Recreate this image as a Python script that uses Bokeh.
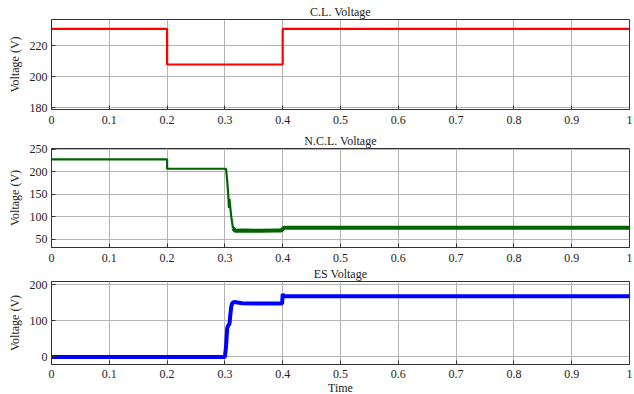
from bokeh.plotting import figure
from bokeh.layouts import column
from bokeh.models import FixedTicker, Range1d, Spacer
from bokeh.embed import file_html
from bokeh.resources import INLINE

# ---- data ----
x_ticks = [0, 0.1, 0.2, 0.3, 0.4, 0.5, 0.6, 0.7, 0.8, 0.9, 1.0]
x_labels = ["0", "0.1", "0.2", "0.3", "0.4", "0.5", "0.6", "0.7", "0.8", "0.9", "1"]

cl_t = [0, 0.2, 0.2, 0.4, 0.4, 1.0]
cl_v = [231, 231, 208, 208, 231, 231]
cl_ticks = [180, 200, 220]

ncl_t_step = [0, 0.2, 0.2, 0.302, 0.304, 0.306, 0.307, 0.308, 0.309, 0.311, 0.314]
ncl_v_step = [228, 228, 207, 207, 180, 145, 120, 140, 125, 100, 75]
ncl_t_band = [0.314, 0.318, 0.33, 0.36, 0.39, 0.398, 0.402, 0.45, 0.6, 0.8, 1.0]
ncl_v_band = [75, 69, 70, 69, 70, 70, 76, 76, 76, 76, 76]
ncl_ticks = [50, 100, 150, 200, 250]

es_t = [0, 0.3, 0.302, 0.304, 0.306, 0.308, 0.309, 0.311, 0.313, 0.316, 0.33, 0.36,
        0.399, 0.4, 0.401, 0.41, 0.5, 0.7, 1.0]
es_v = [0, 0, 30, 80, 88, 92, 110, 140, 150, 152, 149, 148, 148, 175, 168, 168, 168, 168, 168]
es_ticks = [0, 100, 200]

FONT = "Liberation Serif"


def make_fig(title, yr, yticks, frame_h, xlabel=None, xstand=6):
    p = figure(frame_width=578, frame_height=frame_h,
               x_range=Range1d(0, 1), y_range=Range1d(*yr),
               output_backend="svg", toolbar_location=None,
               min_border_left=51, min_border_right=5,
               min_border_top=0, min_border_bottom=0)
    p.title.text = title
    p.title.align = "center"
    p.title.text_font = FONT
    p.title.text_font_size = "12px"
    p.title.text_font_style = "normal"
    p.title.text_color = "#222222"
    p.title.standoff = 1
    p.title.offset = 0
    p.outline_line_color = "#333333"
    p.outline_line_width = 1
    for ax in (p.xaxis[0], p.yaxis[0]):
        ax.major_label_text_font = FONT
        ax.major_label_text_font_size = "12px"
        ax.major_label_text_color = "#222222"
        ax.axis_line_color = "#333333"
        ax.major_tick_in = 4
        ax.major_tick_out = 0
        ax.major_tick_line_color = "#333333"
        ax.minor_tick_line_color = None
        ax.axis_label_text_font = FONT
        ax.axis_label_text_font_size = "12px"
        ax.axis_label_text_font_style = "normal"
        ax.axis_label_text_color = "#222222"
    p.xaxis[0].ticker = FixedTicker(ticks=x_ticks)
    p.xaxis[0].major_label_overrides = {t: l for t, l in zip(x_ticks, x_labels)}
    p.xaxis[0].major_label_standoff = xstand
    p.yaxis[0].ticker = FixedTicker(ticks=yticks)
    p.yaxis[0].major_label_standoff = 4
    p.yaxis[0].axis_label = "Voltage (V)"
    p.yaxis[0].axis_label_standoff = 5
    if xlabel:
        p.xaxis[0].axis_label = xlabel
        p.xaxis[0].axis_label_standoff = 0
    p.grid.grid_line_color = "#b4b4b4"
    p.grid.grid_line_width = 1
    p.xgrid.ticker = FixedTicker(ticks=x_ticks)
    p.ygrid.ticker = FixedTicker(ticks=yticks)
    return p


p1 = make_fig("C.L. Voltage", (179, 237), cl_ticks, 90)
p1.line(cl_t, cl_v, line_color="#ff0000", line_width=2.2)

p2 = make_fig("N.C.L. Voltage", (32, 252), ncl_ticks, 99)
p2.line(ncl_t_step, ncl_v_step, line_color="#006400", line_width=2.2)
p2.line(ncl_t_band, ncl_v_band, line_color="#006400", line_width=4)

p3 = make_fig("ES Voltage", (-21, 209), es_ticks, 83, xlabel="Time", xstand=5)
p3.line(es_t, es_v, line_color="#0000ff", line_width=4)

layout = column(Spacer(height=2), p1, Spacer(height=5), p2, p3, spacing=0)

open("out.html", "w").write(file_html(layout, INLINE))
